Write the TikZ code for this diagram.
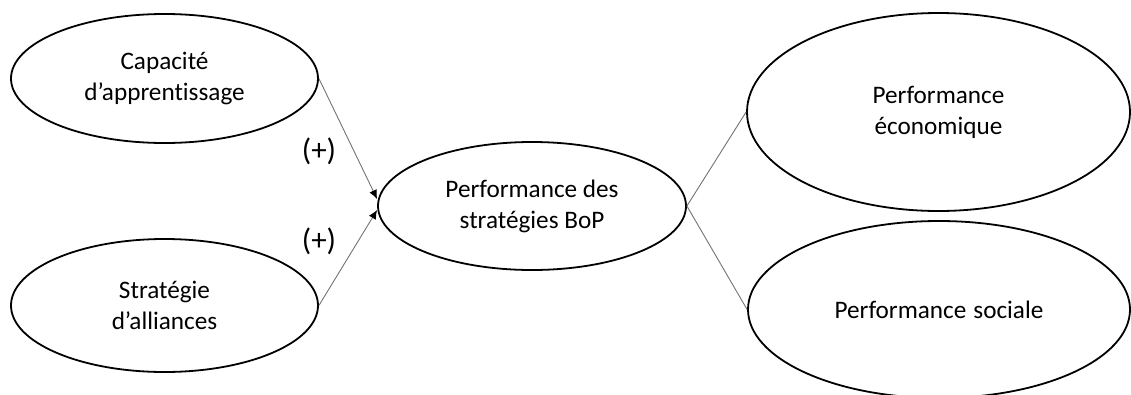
\documentclass[tikz,border=0pt]{standalone}
\usepackage{fontspec}
\setmainfont{Carlito}[Ligatures={NoCommon,NoContextual}]
\usetikzlibrary{shapes.geometric,arrows.meta}
\tikzset{
  oval/.style={draw=black,line width=1.8pt,ellipse,inner sep=0pt,align=center,
    font=\fontsize{25.2}{31}\selectfont},
  link/.style={draw=black!55,line width=0.9pt},
  tip/.style={-{Latex[length=9pt,width=8pt,color=black]}},
  sign/.style={font=\fontsize{31}{32}\selectfont,inner sep=0pt}
}
\begin{document}
\begin{tikzpicture}[x=1pt,y=-1pt]
\useasboundingbox (0,0) rectangle (1131,394);
\clip (0,0) rectangle (1131,394);
\node[oval,minimum width=307pt,minimum height=129pt] (cap) at (164.5,78.5) {Capacité\\d’apprentissage};
\node[oval,minimum width=307pt,minimum height=133pt] (all) at (164.5,305.5) {Stratégie\\d’alliances};
\node[oval,minimum width=308pt,minimum height=128pt] (bop) at (532,206) {Performance des\\stratégies BoP};
\node[oval,minimum width=383pt,minimum height=198pt] (eco) at (938.5,112) {Performance\\économique};
\node[oval,minimum width=382pt,minimum height=177pt] (soc) at (939,309.5) {Performance\;sociale};
\draw[link,tip] (cap.east) -- ([yshift=7pt]bop.west);
\draw[link,tip] (all.east) -- ([yshift=-4pt]bop.west);
\draw[link] (bop.east) -- (eco.west);
\draw[link] (bop.east) -- (soc.west);
\node[sign] (p1) at (319,151) {(+)};
\node[sign] (p2) at (319,241) {(+)};
\end{tikzpicture}
\end{document}
